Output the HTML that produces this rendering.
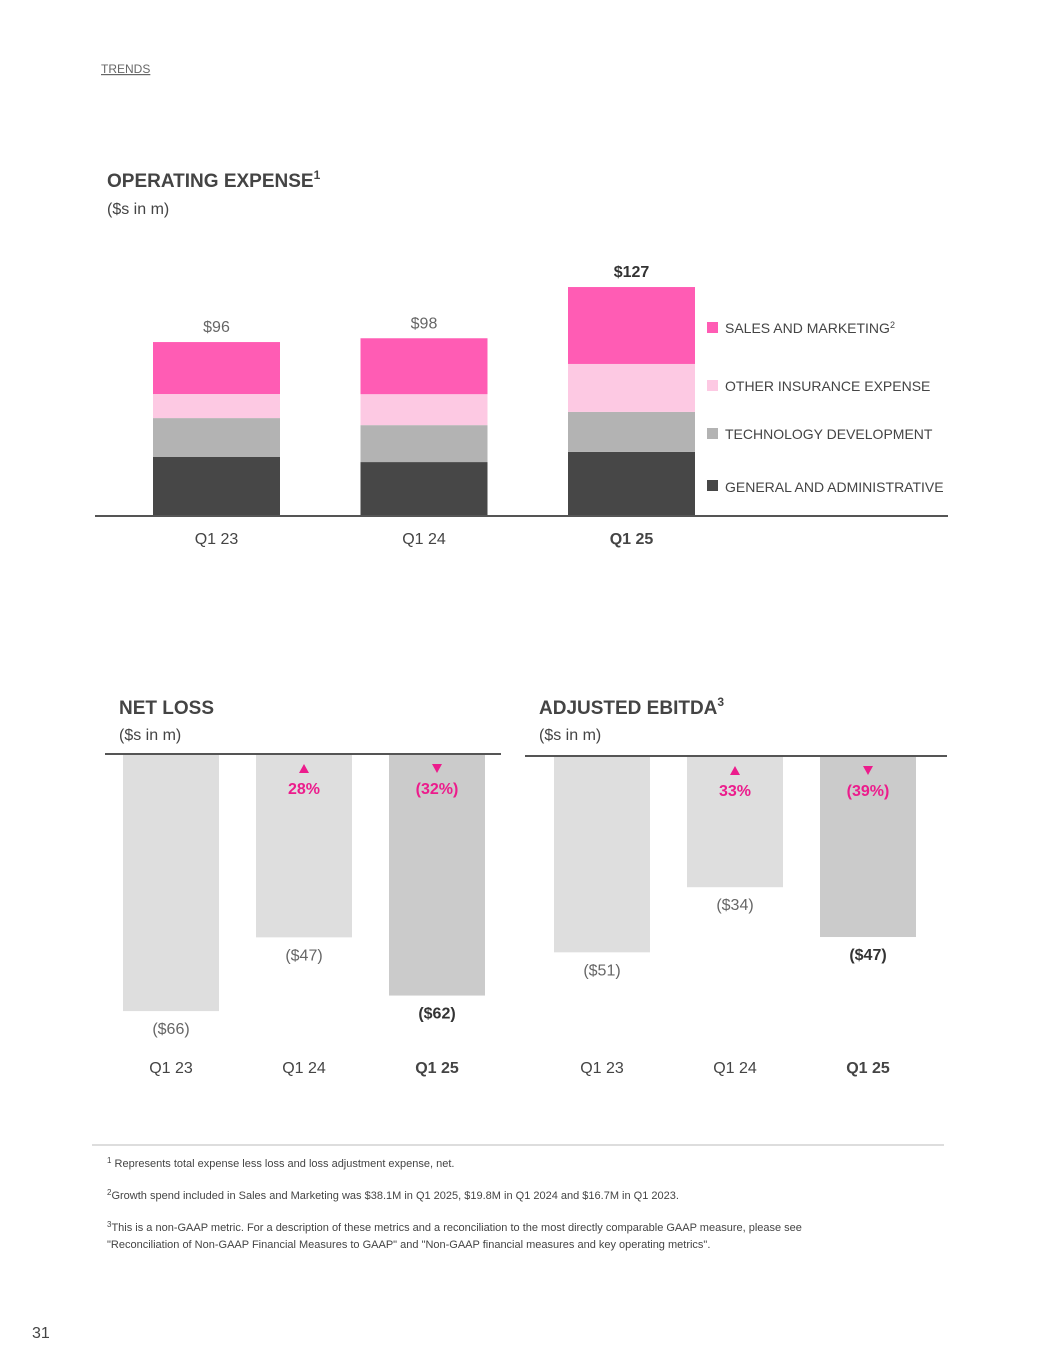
<!DOCTYPE html>
<html><head><meta charset="utf-8"><style>
body{margin:0;background:#fff;font-family:"Liberation Sans",sans-serif;}
svg text{font-family:"Liberation Sans",sans-serif;}
</style></head><body>
<svg width="1055" height="1365" viewBox="0 0 1055 1365" xmlns="http://www.w3.org/2000/svg">
<text x="101" y="73" font-size="12" fill="#666" text-decoration="underline">TRENDS</text>
<text x="107" y="187" font-size="19" font-weight="bold" fill="#444">OPERATING EXPENSE<tspan font-size="12" dy="-8">1</tspan></text>
<text x="107" y="214" font-size="16" fill="#444">($s in m)</text>
<g id="opex"></g>
<line x1="95" y1="516" x2="948" y2="516" stroke="#555" stroke-width="2"/>
<g>
<rect x="707" y="322" width="11" height="11" fill="#ff5cb4"/>
<text x="725" y="333" font-size="14" fill="#444">SALES AND MARKETING<tspan font-size="9" dy="-5">2</tspan></text>
<rect x="707" y="380" width="11" height="11" fill="#fdc9e3"/>
<text x="725" y="391" font-size="14" fill="#444">OTHER INSURANCE EXPENSE</text>
<rect x="707" y="428" width="11" height="11" fill="#b3b3b3"/>
<text x="725" y="439" font-size="14" fill="#444">TECHNOLOGY DEVELOPMENT</text>
<rect x="707" y="480" width="11" height="11" fill="#474747"/>
<text x="725" y="492" font-size="14" fill="#444">GENERAL AND ADMINISTRATIVE</text>
</g>

<text x="119" y="714" font-size="19" font-weight="bold" fill="#444">NET LOSS</text>
<text x="119" y="740" font-size="16" fill="#444">($s in m)</text>
<text x="539" y="714" font-size="19" font-weight="bold" fill="#444">ADJUSTED EBITDA<tspan font-size="12" dy="-8">3</tspan></text>
<text x="539" y="740" font-size="16" fill="#444">($s in m)</text>
<g id="nl"></g>
<g id="eb"></g>
<line x1="105" y1="754" x2="501" y2="754" stroke="#555" stroke-width="2"/>
<line x1="525" y1="756" x2="947" y2="756" stroke="#555" stroke-width="2"/>

<line x1="92" y1="1145" x2="944" y2="1145" stroke="#ddd" stroke-width="2"/>
<g font-size="11" fill="#444">
<text x="107" y="1167"><tspan font-size="8" dy="-4">1</tspan><tspan dy="4"> Represents total expense less loss and loss adjustment expense, net.</tspan></text>
<text x="107" y="1199"><tspan font-size="8" dy="-4">2</tspan><tspan dy="4">Growth spend included in Sales and Marketing was $38.1M in Q1 2025, $19.8M in Q1 2024 and $16.7M in Q1 2023.</tspan></text>
<text x="107" y="1231"><tspan font-size="8" dy="-4">3</tspan><tspan dy="4">This is a non-GAAP metric. For a description of these metrics and a reconciliation to the most directly comparable GAAP measure, please see</tspan></text>
<text x="107" y="1248">"Reconciliation of Non-GAAP Financial Measures to GAAP" and "Non-GAAP financial measures and key operating metrics".</text>
</g>
<text x="32" y="1338" font-size="16" fill="#444">31</text>
</svg>
<script>
const NS="http://www.w3.org/2000/svg";
const opexCats=["Q1 23","Q1 24","Q1 25"];
const gaVals=[32.6,29.8,35.4];
const techVals=[21.5,20.4,22.1];
const otherVals=[13.3,17.1,26.5];
const smVals=[28.7,30.9,42.5];
const opexTotals=["$96","$98","$127"];
const netLossVals=[66,47,62];
const netLossLabels=["($66)","($47)","($62)"];
const netLossChange=["","28%","(32%)"];
const ebitdaVals=[51,34,47];
const ebitdaLabels=["($51)","($34)","($47)"];
const ebitdaChange=["","33%","(39%)"];

function mk(parent,tag,attrs,text){const e=document.createElementNS(NS,tag);for(const k in attrs)e.setAttribute(k,attrs[k]);if(text!==undefined)e.textContent=text;parent.appendChild(e);return e;}

// opex
(function(){
const g=document.getElementById('opex');
const base=516, k=1.81, bw=127;
const xL=i=>153+i*207.5;
const series=[[gaVals,"#474747","ga"],[techVals,"#b3b3b3","tech"],[otherVals,"#fdc9e3","other"],[smVals,"#ff5cb4","sm"]];
opexCats.forEach((c,i)=>{
  let y=base;
  series.forEach(s=>{
    const h=s[0][i]*k; y-=h;
    const r=mk(g,'rect',{x:xL(i),y:y,width:bw,height:h,fill:s[1]});
    
    
  });
  const last=i===opexCats.length-1;
  const t=mk(g,'text',{x:xL(i)+bw/2,y:y-10,'font-size':16,'text-anchor':'middle',fill:last?'#333':'#666','font-weight':last?'bold':'normal'},opexTotals[i]);
  
  
  const c2=mk(g,'text',{x:xL(i)+bw/2,y:544,'font-size':16,'text-anchor':'middle',fill:'#444','font-weight':last?'bold':'normal'},c);
  
  
});
})();

function lossChart(id,vals,labels,changes,x0,top,k,prefix){
  const g=document.getElementById(id);
  const bw=96;
  vals.forEach((v,i)=>{
    const last=i===vals.length-1;
    const x=x0+i*133;
    const h=v*k;
    const r=mk(g,'rect',{x:x,y:top,width:bw,height:h-top+top-(0),fill:last?'#cbcbcb':'#dedede'});
    r.setAttribute('height',h);
    
    
    const t=mk(g,'text',{x:x+bw/2,y:top+h+23,'font-size':16,'text-anchor':'middle',fill:last?'#333':'#666','font-weight':last?'bold':'normal'},labels[i]);
    
    
    const c=mk(g,'text',{x:x+bw/2,y:1073,'font-size':16,'text-anchor':'middle',fill:'#444','font-weight':last?'bold':'normal'},["Q1 23","Q1 24","Q1 25"][i]);
    
    
    if(changes[i]){
      const up=!changes[i].startsWith('(');
      const cx=x+bw/2, ty=top+9;
      const tri=mk(g,'polygon',{points:up?`${cx-5},${ty+9} ${cx+5},${ty+9} ${cx},${ty}`:`${cx-5},${ty} ${cx+5},${ty} ${cx},${ty+9}`,fill:'#ec1c8c'});
      
      
      const ct=mk(g,'text',{x:cx,y:top+39,'font-size':16,'font-weight':'bold','text-anchor':'middle',fill:'#ec1c8c'},changes[i]);
      
      
    }
  });
}
lossChart('nl',netLossVals,netLossLabels,netLossChange,123,755,3.88,'net-loss');
lossChart('eb',ebitdaVals,ebitdaLabels,ebitdaChange,554,757,3.83,'ebitda');
</script>
</body></html>
